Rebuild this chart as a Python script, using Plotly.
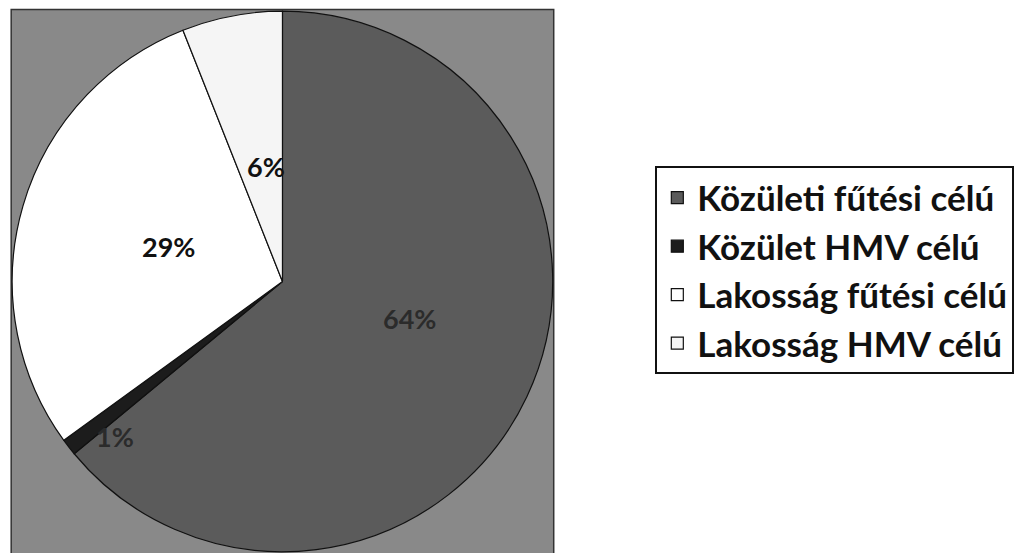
import math
import plotly.graph_objects as go

# slices, clockwise from 12 o'clock
labels = ['Közületi fűtési célú', 'Közület HMV célú', 'Lakosság fűtési célú', 'Lakosság HMV célú']
values = [64, 1, 29, 6]
colors = ['#5b5b5b', '#1c1c1c', '#ffffff', '#f5f5f5']
text_colors = ['#2b2b2b', '#2b2b2b', '#111111', '#111111']

# where each % label sits: fraction of the radius, and a nudge off the mid angle (deg)
label_radius = [0.49, 0.845, 0.44, 0.43]
label_turn = [-9, -5, 1, 2.5]

W, H = 1016, 553
dom_x = [0.012, 0.544]
dom_y = [0.0, 0.982]

fig = go.Figure()

fig.add_trace(go.Pie(
  labels=labels,
  values=values,
  sort=False,
  direction='clockwise',
  rotation=0,
  marker=dict(colors=colors, line=dict(color='#111111', width=1.2)),
  textinfo='none',
  domain=dict(x=dom_x, y=dom_y),
))

# percentage labels, placed round each slice's mid angle
cx = (dom_x[0] + dom_x[1]) / 2
cy = (dom_y[0] + dom_y[1]) / 2
r = min((dom_x[1] - dom_x[0]) * W, (dom_y[1] - dom_y[0]) * H) / 2
total = sum(values)
start = 0
for v, col, f, turn in zip(values, text_colors, label_radius, label_turn):
  mid = (start + v / 2) / total * 2 * math.pi + math.radians(turn)
  start += v
  fig.add_annotation(
    x=cx + f * r * math.sin(mid) / W,
    y=cy + f * r * math.cos(mid) / H,
    xref='paper', yref='paper', showarrow=False,
    xanchor='center', yanchor='middle',
    text=f'{round(v / total * 100)}%',
    font=dict(family='Lato', size=27, color=col, weight='bold'),
  )

# grey plot area behind the pie
fig.add_shape(type='rect', xref='paper', yref='paper',
              x0=0.011, x1=0.545, y0=-0.01, y1=0.983,
              fillcolor='#898989', line=dict(color='#333333', width=1.5),
              layer='below')

fig.update_layout(
  width=W, height=H,
  margin=dict(l=0, r=0, t=0, b=0),
  paper_bgcolor='white',
  plot_bgcolor='white',
  showlegend=True,
  legend=dict(
    x=0.645, y=0.699, xanchor='left', yanchor='top',
    bordercolor='#111111', borderwidth=2,
    font=dict(family='Lato', size=35, color='#111111', weight='bold'),
    itemclick=False,
  ),
  font=dict(family='Lato'),
)

fig.write_html('out.html', config={'displayModeBar': False},
               post_script="document.body.style.margin='0';")
